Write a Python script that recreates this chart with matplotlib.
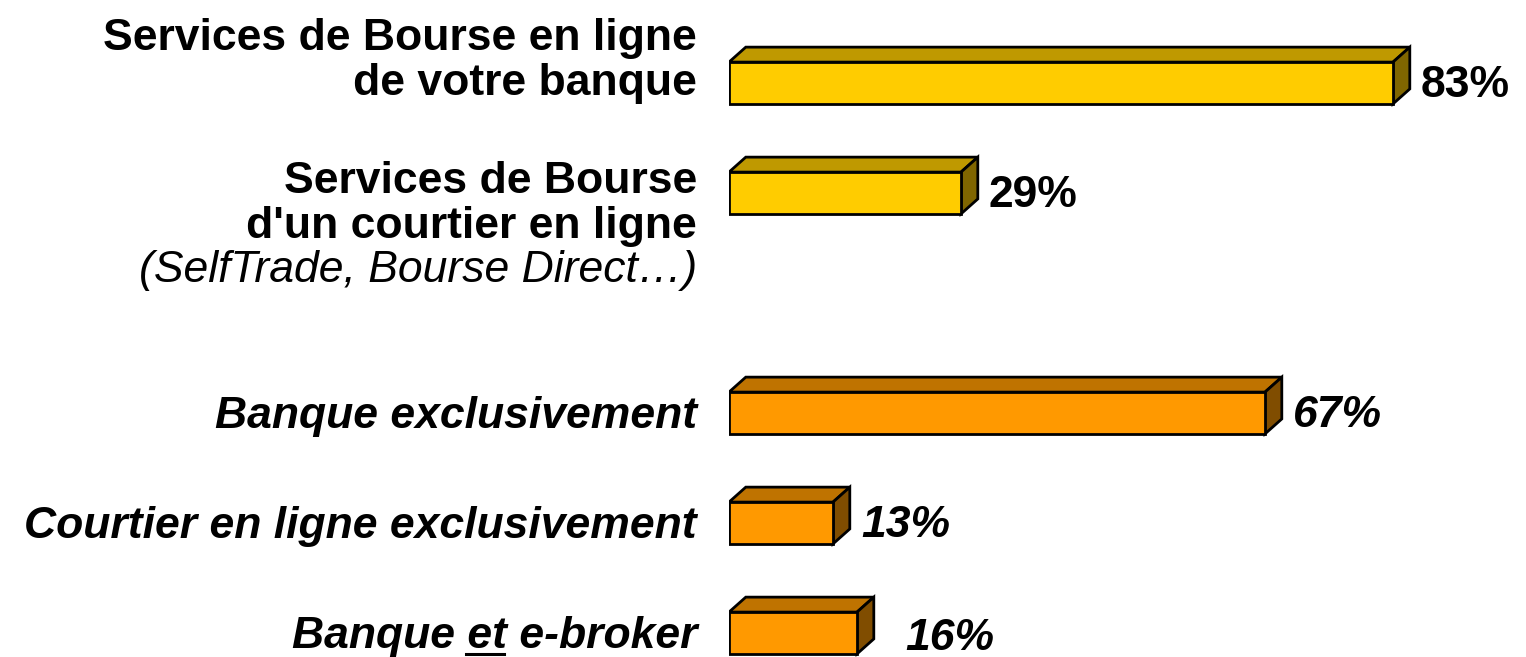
import matplotlib
matplotlib.use("Agg")
import matplotlib.pyplot as plt
from matplotlib.patches import Polygon

plt.rcParams['font.family'] = ['Liberation Sans', 'DejaVu Sans']

# data
labels = ["Services de Bourse en ligne\nde votre banque",
          "Services de Bourse\nd'un courtier en ligne",
          "Banque exclusivement",
          "Courtier en ligne exclusivement",
          "Banque et e-broker"]
sublabel = "(SelfTrade, Bourse Direct…)"
values = [83, 29, 67, 13, 16]
front_colors = ["#FFCC00", "#FFCC00", "#FF9900", "#FF9900", "#FF9900"]
top_colors = ["#BF9900", "#BF9900", "#BF7300", "#BF7300", "#BF7300"]
side_colors = ["#806600", "#806600", "#804D00", "#804D00", "#804D00"]
italic = [False, False, True, True, True]

ypos = [0, 1, 3, 4, 5]
bar_h = 0.38
dx, dy = 2.1, 0.136

W, H = 1526, 657
fig = plt.figure(figsize=(W / 100, H / 100), dpi=100)
ax = fig.add_axes([729 / W, 0, 800 / W, 1])
ax.set_xlim(0, 100)
ax.set_ylim((657 - 83) / 110, -83 / 110)
ax.axis('off')

fs = 32
for i, (lab, v) in enumerate(zip(labels, values)):
    y = ypos[i]
    ax.barh(y, v, height=bar_h, color=front_colors[i], edgecolor='black', linewidth=2, zorder=3)
    top = y - bar_h / 2
    bot = y + bar_h / 2
    ax.add_patch(Polygon([(0, top), (v, top), (v + dx, top - dy), (dx, top - dy)],
                         closed=True, facecolor=top_colors[i], edgecolor='black', lw=2, zorder=2))
    ax.add_patch(Polygon([(v, top), (v + dx, top - dy), (v + dx, bot - dy), (v, bot)],
                         closed=True, facecolor=side_colors[i], edgecolor='black', lw=2, zorder=2))

    style = 'italic' if italic[i] else 'normal'
    vx = v + dx + 1.4
    vy = y + 0.02
    if i == 4:
        vx += 2.5
        vy += 0.03
    ax.text(vx, vy, f"{v}%", fontsize=fs, fontweight='bold', fontstyle=style,
            ha='left', va='center', clip_on=False)

# category labels
lx = -4
ax.text(lx, ypos[0] - 0.2, labels[0], fontsize=fs, fontweight='bold', ha='right',
        va='center', linespacing=1.1, clip_on=False)
ax.text(lx, ypos[1] + 0.1, labels[1], fontsize=fs, fontweight='bold', ha='right',
        va='center', linespacing=1.1, clip_on=False)
ax.text(lx, ypos[1] + 0.7, sublabel, fontsize=fs, fontstyle='italic', ha='right',
        va='center', clip_on=False)
for i in (2, 3, 4):
    ax.text(lx, ypos[i] + 0.03, labels[i], fontsize=fs, fontweight='bold',
            fontstyle='italic', ha='right', va='center', clip_on=False)

# underline "et" in the last label
r = fig.canvas.get_renderer()
def width_px(s):
    t = ax.text(0, 0, s, fontsize=fs, fontweight='bold', fontstyle='italic')
    w = t.get_window_extent(r).width
    t.remove()
    return w
right_px = ax.transData.transform((lx, 0))[0]
x1 = right_px - width_px("et e-broker")
x2 = right_px - width_px(" e-broker")
yb = ax.transData.transform((0, ypos[4] + 0.03))[1] - 18
inv = fig.transFigure.inverted()
p1 = inv.transform((x1 - 1, yb))
p2 = inv.transform((x2 - 3, yb))
fig.add_artist(plt.Line2D([p1[0], p2[0]], [p1[1], p2[1]], color='black', lw=2.2))

fig.savefig("out.png", dpi=100)
